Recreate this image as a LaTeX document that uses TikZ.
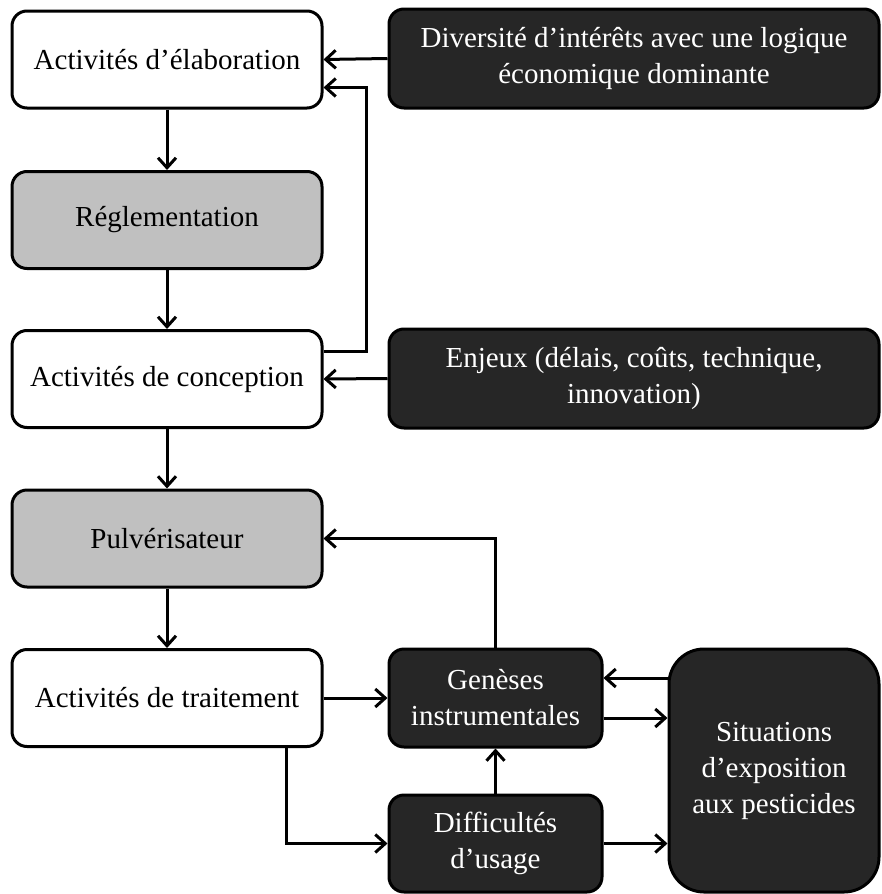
\documentclass[tikz,border=0pt]{standalone}
\usepackage{fontspec}
\setmainfont{Liberation Serif}
\usetikzlibrary{arrows.meta}

\definecolor{boxgrey}{HTML}{C0C0C0}
\definecolor{boxdark}{HTML}{262626}

\begin{document}
\begin{tikzpicture}[x=1pt,y=-1pt,line width=3pt,
  >={Straight Barb[length=10pt,width=18pt]},
  box/.style={draw,rounded corners=15pt,align=center,inner sep=0pt,
    minimum height=97pt,font=\fontsize{29}{36}\selectfont},
  plain/.style={box,fill=white,minimum width=310pt},
  grey/.style={box,fill=boxgrey,minimum width=310pt},
  dark/.style={box,fill=boxdark,text=white}]
\useasboundingbox (0,0) rectangle (881,894);

% left column
\node[plain] (elab) at (167,59.5) {Activités d’élaboration};
\node[grey] (regl) at (167,220) {Réglementation};
\node[plain] (conc) at (167,379) {Activités de conception};
\node[grey] (pulv) at (167,538.5) {Pulvérisateur};
\node[plain] (trait) at (167,698) {Activités de traitement};

% right side
\node[dark,minimum width=490pt,minimum height=99pt] (div) at (634,58.5)
  {Diversité d’intérêts avec une logique\\économique dominante};
\node[dark,minimum width=490pt,minimum height=99pt] (enj) at (634,378.5)
  {Enjeux (délais, coûts, technique,\\innovation)};
\node[dark,minimum width=213pt,minimum height=98pt] (gen) at (495.5,698)
  {Genèses\\instrumentales};
\node[dark,minimum width=213pt] (diff) at (495.5,843.5)
  {Difficultés\\d’usage};
\node[dark,minimum width=210pt,minimum height=243pt,rounded corners=35pt] (sit)
  at (774,770.5) {Situations\\d’exposition\\aux pesticides};

\coordinate (fb) at (366,351);
\coordinate (g1) at ([yshift=20pt]gen.east);
\coordinate (g2) at ([yshift=-20pt]gen.east);

\path[->]
(elab) edge (regl)
(regl) edge (conc)
(conc) edge (pulv)
(pulv) edge (trait)
(div.west) edge (elab.east)
(enj.west) edge (conc.east)
(trait) edge (gen)
(diff) edge (gen)
(sit.west |- g1) edge (g1)
(g2) edge (sit.west |- g2)
(diff.east) edge (sit.west |- diff.east);

\draw[->] ([yshift=28pt]conc.east) -- (fb) |- ([yshift=-28pt]elab.east);
\draw[->] (gen.north) |- (pulv.east);
\draw[->] ([xshift=119pt]trait.south) |- (diff.west);
\end{tikzpicture}
\end{document}
